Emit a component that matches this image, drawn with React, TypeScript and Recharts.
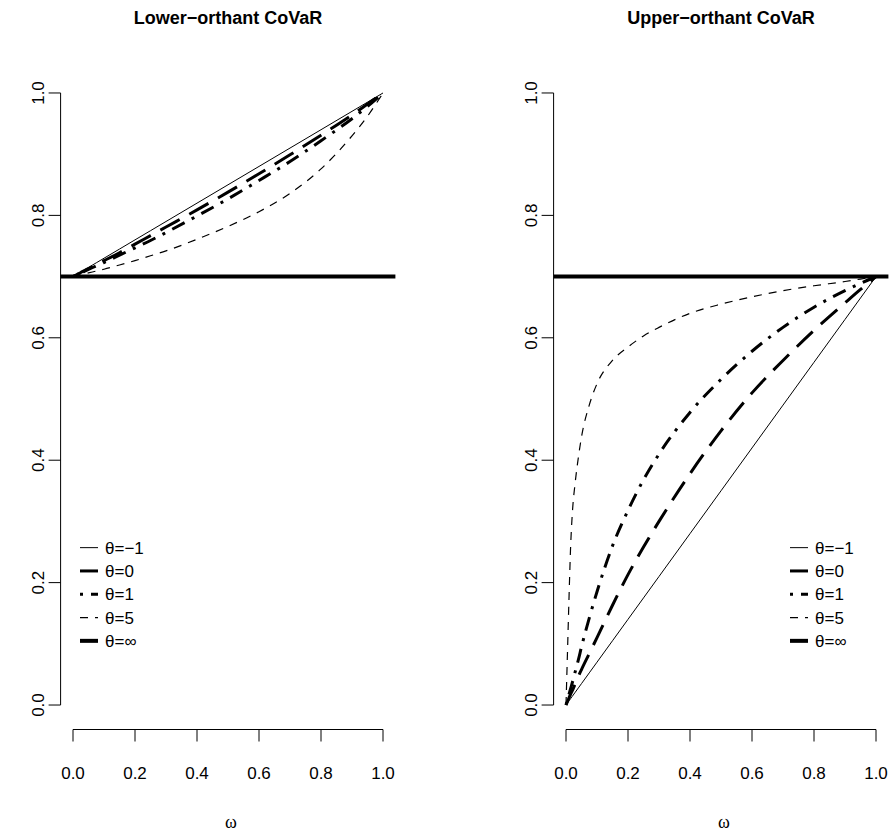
import { LineChart, Line, XAxis, YAxis, ReferenceLine } from "recharts";

// omega grid (x values) shared by every curve
const omega = [0, 0.005, 0.01, 0.015, 0.02, 0.03, 0.04, 0.05, 0.075, 0.1, 0.15, 0.2, 0.25, 0.3, 0.4, 0.5, 0.6, 0.7, 0.8, 0.9, 0.95, 1];

// Lower-orthant CoVaR curves
const lowerThetaM1 = [0.7, 0.7015, 0.703, 0.7045, 0.706, 0.709, 0.712, 0.715, 0.7225, 0.73, 0.745, 0.76, 0.775, 0.79, 0.82, 0.85, 0.88, 0.91, 0.94, 0.97, 0.985, 1];
const lowerTheta0 = [0.7, 0.7013, 0.7026, 0.704, 0.7053, 0.708, 0.7106, 0.7132, 0.7196, 0.726, 0.739, 0.753, 0.767, 0.781, 0.809, 0.838, 0.868, 0.899, 0.931, 0.964, 0.982, 1];
const lowerTheta1 = [0.7, 0.7012, 0.7024, 0.7035, 0.7047, 0.707, 0.7094, 0.7117, 0.7175, 0.723, 0.735, 0.747, 0.759, 0.772, 0.799, 0.827, 0.857, 0.888, 0.922, 0.958, 0.978, 1];
const lowerTheta5 = [0.7, 0.7006, 0.7012, 0.7018, 0.7024, 0.7036, 0.7048, 0.706, 0.709, 0.712, 0.719, 0.726, 0.734, 0.742, 0.761, 0.782, 0.806, 0.836, 0.876, 0.93, 0.962, 1];

// Upper-orthant CoVaR curves
const upperThetaM1 = [0, 0.0035, 0.007, 0.0105, 0.014, 0.021, 0.028, 0.035, 0.0525, 0.07, 0.105, 0.14, 0.175, 0.21, 0.28, 0.35, 0.42, 0.49, 0.56, 0.63, 0.665, 0.7];
const upperTheta0 = [0, 0.006, 0.012, 0.018, 0.023, 0.035, 0.047, 0.058, 0.084, 0.11, 0.163, 0.213, 0.258, 0.3, 0.378, 0.448, 0.51, 0.563, 0.612, 0.657, 0.679, 0.7];
const upperTheta1 = [0, 0.009, 0.018, 0.027, 0.036, 0.055, 0.074, 0.095, 0.142, 0.185, 0.26, 0.318, 0.368, 0.41, 0.478, 0.532, 0.578, 0.617, 0.65, 0.677, 0.689, 0.7];
const upperTheta5 = [0, 0.09, 0.18, 0.26, 0.31, 0.365, 0.405, 0.438, 0.49, 0.525, 0.563, 0.585, 0.603, 0.617, 0.64, 0.655, 0.667, 0.677, 0.685, 0.692, 0.696, 0.7];

// theta = infinity is flat at this level in both panels
const thetaInfLevel = 0.7;

const axisTicks = [0, 0.2, 0.4, 0.6, 0.8, 1];
const thetaLabels = ["θ=−1", "θ=0", "θ=1", "θ=5", "θ=∞"];
const seriesKeys = ["m1", "t0", "t1", "t5"];

const lineStyles = [
  { width: 1, dash: undefined as string | undefined },
  { width: 3, dash: "22 11" },
  { width: 3, dash: "3 8 14 8" },
  { width: 1.2, dash: "8 7" },
  { width: 4, dash: undefined as string | undefined },
];

const FONT = '"Liberation Sans", Arial, Helvetica, sans-serif';

function buildRows(series: number[][]) {
  return omega.map((w, i) => {
    const row: Record<string, number> = { w };
    seriesKeys.forEach((k, j) => (row[k] = series[j][i]));
    return row;
  });
}

function XTick({ x, y, payload }: any) {
  return (
    <text x={x} y={y + 35} textAnchor="middle" fontSize={17} fill="#000" fontFamily={FONT}>
      {Number(payload.value).toFixed(1)}
    </text>
  );
}

function YTick({ x, y, payload }: any) {
  const bx = x - 3;
  return (
    <text
      x={bx}
      y={y}
      transform={`rotate(-90 ${bx} ${y})`}
      textAnchor="middle"
      fontSize={17}
      fill="#000"
      fontFamily={FONT}
    >
      {Number(payload.value).toFixed(1)}
    </text>
  );
}

function LegendBox() {
  const step = 23.3;
  return (
    <svg width={120} height={step * 5 + 4} style={{ display: "block" }}>
      {thetaLabels.map((label, i) => {
        const cy = step / 2 + i * step;
        const s = lineStyles[i];
        return (
          <g key={label}>
            <line x1={5} x2={23} y1={cy} y2={cy} stroke="#000" strokeWidth={s.width} strokeDasharray={s.dash} />
            <text x={30} y={cy + 6} fontSize={17} fill="#000" fontFamily={FONT}>
              {label}
            </text>
          </g>
        );
      })}
    </svg>
  );
}

type PanelProps = {
  title: string;
  left: number;
  width: number;
  rows: Record<string, number>[];
  legendLeft: number;
};

function Panel({ title, left, width, rows, legendLeft }: PanelProps) {
  const plotLeft = 60.6;
  const plotRight = 395.4;
  const plotCenter = left + (plotLeft + plotRight) / 2;
  return (
    <>
      <div
        style={{
          position: "absolute",
          left: plotCenter - 150,
          width: 300,
          top: 6,
          textAlign: "center",
          fontFamily: FONT,
          fontWeight: "bold",
          fontSize: 18,
          lineHeight: "24px",
        }}
      >
        {title}
      </div>
      <div
        style={{
          position: "absolute",
          left: plotCenter - 47,
          width: 100,
          top: 810,
          textAlign: "center",
          fontFamily: '"Liberation Serif", "DejaVu Serif", serif',
          fontSize: 18,
          lineHeight: "24px",
        }}
      >
        ω
      </div>
      <div style={{ position: "absolute", left, top: 0 }}>
        <LineChart
          width={width}
          height={840}
          data={rows}
          margin={{ top: 68.5, right: width - plotRight, bottom: 50.5, left: 10.6 }}
        >
          <XAxis
            dataKey="w"
            type="number"
            domain={[-0.04, 1.04]}
            ticks={axisTicks}
            axisLine={false}
            tickLine={{ stroke: "#000" }}
            tickSize={12}
            height={60}
            tick={<XTick />}
            allowDataOverflow
          />
          <YAxis
            type="number"
            domain={[-0.04, 1.04]}
            ticks={axisTicks}
            axisLine={false}
            tickLine={{ stroke: "#000" }}
            tickSize={12}
            width={50}
            tick={<YTick />}
            allowDataOverflow
          />
          <ReferenceLine
            segment={[{ x: 0, y: -0.04 }, { x: 1, y: -0.04 }]}
            stroke="#000"
            strokeWidth={1}
            ifOverflow="visible"
          />
          <ReferenceLine
            segment={[{ x: -0.04, y: 0 }, { x: -0.04, y: 1 }]}
            stroke="#000"
            strokeWidth={1}
            ifOverflow="visible"
          />
          {seriesKeys.map((k, i) => (
            <Line
              key={k}
              dataKey={k}
              type="monotone"
              stroke="#000"
              strokeWidth={lineStyles[i].width}
              strokeDasharray={lineStyles[i].dash}
              dot={false}
              activeDot={false}
              isAnimationActive={false}
            />
          ))}
          <ReferenceLine y={thetaInfLevel} stroke="#000" strokeWidth={lineStyles[4].width} />
        </LineChart>
      </div>
      <div style={{ position: "absolute", left: legendLeft, top: 536.35 }}>
        <LegendBox />
      </div>
    </>
  );
}

export default function App() {
  const lowerRows = buildRows([lowerThetaM1, lowerTheta0, lowerTheta1, lowerTheta5]);
  const upperRows = buildRows([upperThetaM1, upperTheta0, upperTheta1, upperTheta5]);
  return (
    <div
      style={{
        position: "absolute",
        left: 0,
        top: 0,
        width: 890,
        height: 840,
        overflow: "hidden",
        background: "#fff",
      }}
    >
      <Panel title="Lower−orthant CoVaR" left={0} width={445} rows={lowerRows} legendLeft={75} />
      <Panel title="Upper−orthant CoVaR" left={493} width={397} rows={upperRows} legendLeft={785} />
    </div>
  );
}
